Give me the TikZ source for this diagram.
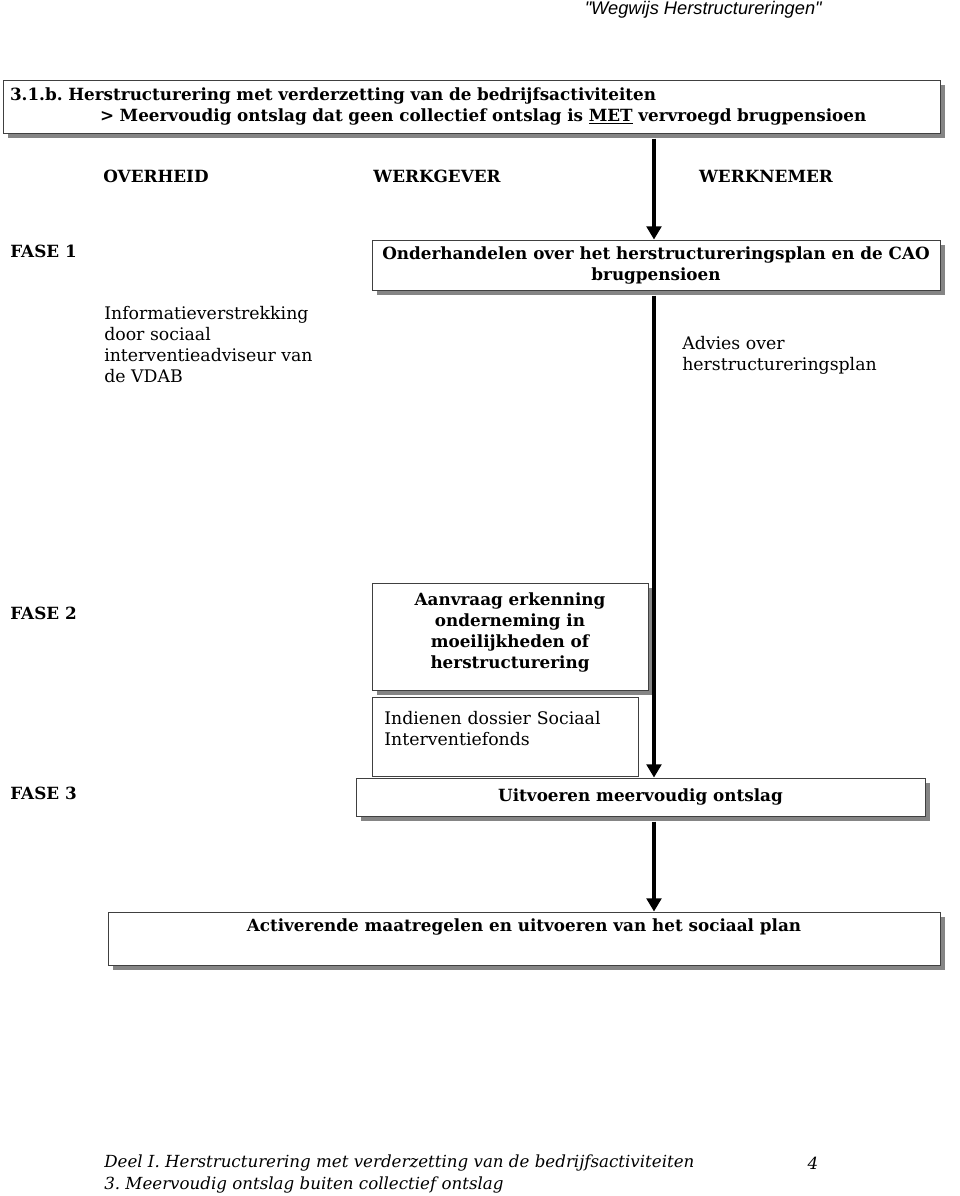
\documentclass[tikz,border=0pt]{standalone}
\usepackage{fontspec}
\setmainfont{DejaVu Serif}
\newfontfamily\headfont{Liberation Sans}
\usetikzlibrary{arrows.meta,shadows}
\frenchspacing
\tikzset{
  lbl/.style={inner sep=0pt, font=\fontsize{12.6}{15.75}\selectfont\bfseries},
  txt/.style={inner sep=0pt, align=left, font=\fontsize{13}{15.75}\selectfont},
  box/.style={draw=black!75, line width=0.6pt, fill=white, inner sep=0pt,
    align=center, font=\fontsize{12.6}{15.75}\selectfont\bfseries},
  shbox/.style={box, drop shadow={shadow xshift=3.5pt, shadow yshift=-3.5pt, fill=black!60, opacity=0.8}},
  flow/.style={line width=3pt, -{Triangle[width=11pt,length=10pt]}}
}
\begin{document}
\begin{tikzpicture}[x=0.75pt, y=-0.75pt]
  \useasboundingbox (0,0) rectangle (960,1196);
  \coordinate (col) at (654,0);
  \draw
    (822,10) node[anchor=east, inner sep=0pt, font=\headfont\fontsize{13.7}{15}\selectfont\itshape] (header){"Wegwijs Herstructureringen"}
    (471.5,106.5) node[shbox, minimum width=702.75pt, minimum height=39.75pt, text width=692.25pt, align=left] (title)
      {3.1.b. Herstructurering met verderzetting van de bedrijfsactiviteiten\\
       \hspace*{67.5pt}> Meervoudig ontslag dat geen collectief ontslag is \underline{MET} vervroegd brugpensioen}
    (156,176) node[lbl] (overheid){OVERHEID}
    (437,176) node[lbl] (werkgever){WERKGEVER}
    (766,176) node[lbl] (werknemer){WERKNEMER}
    (10,251) node[lbl, anchor=west] (fase1){FASE 1}
    (656,265) node[shbox, minimum width=426pt, minimum height=37.5pt] (onderh)
      {Onderhandelen over het herstructureringsplan en de CAO\\ brugpensioen}
    (104,306) node[txt, anchor=north west] (info)
      {Informatieverstrekking\\ door sociaal\\ interventieadviseur van\\ de VDAB}
    (682,336) node[txt, anchor=north west] (advies){Advies over\\ herstructureringsplan}
    (10,613) node[lbl, anchor=west] (fase2){FASE 2}
    (510,636.5) node[shbox, minimum width=207pt, minimum height=80.25pt] (aanvraag)
      {Aanvraag erkenning\\ onderneming in\\ moeilijkheden of\\ herstructurering\\[-11.25pt]\strut}
    (505,736.5) node[box, minimum width=199.5pt, minimum height=59.25pt, text width=181pt, align=left,
      font=\fontsize{13}{15.75}\selectfont] (indienen){Indienen dossier Sociaal\\ Interventiefonds\\[-9pt] \strut}
    (10,793) node[lbl, anchor=west] (fase3){FASE 3}
    (640.5,797) node[shbox, minimum width=426.75pt, minimum height=28.5pt] (uitvoeren){Uitvoeren meervoudig ontslag}
    (524,938.5) node[shbox, minimum width=624pt, minimum height=39.75pt] (activ)
      {Activerende maatregelen en uitvoeren van het sociaal plan\\ \strut}
    (104,1163) node[anchor=west, inner sep=0pt, font=\fontsize{12.5}{15}\selectfont\itshape] (deel)
      {Deel I. Herstructurering met verderzetting van de bedrijfsactiviteiten}
    (813,1163) node[inner sep=0pt, font=\fontsize{12.5}{15}\selectfont\itshape] (page){4}
    (104,1185) node[anchor=west, inner sep=0pt, font=\fontsize{12.5}{15}\selectfont\itshape] (hoofdstuk)
      {3. Meervoudig ontslag buiten collectief ontslag};
  \begin{scope}[flow]
    \draw[shorten <=4pt] (title.south -| col) to (onderh.north -| col);
    \draw[shorten <=4pt] (onderh.south -| col) to (uitvoeren.north -| col);
    \draw[shorten <=4pt] (uitvoeren.south -| col) to (activ.north -| col);
  \end{scope}
\end{tikzpicture}
\end{document}
